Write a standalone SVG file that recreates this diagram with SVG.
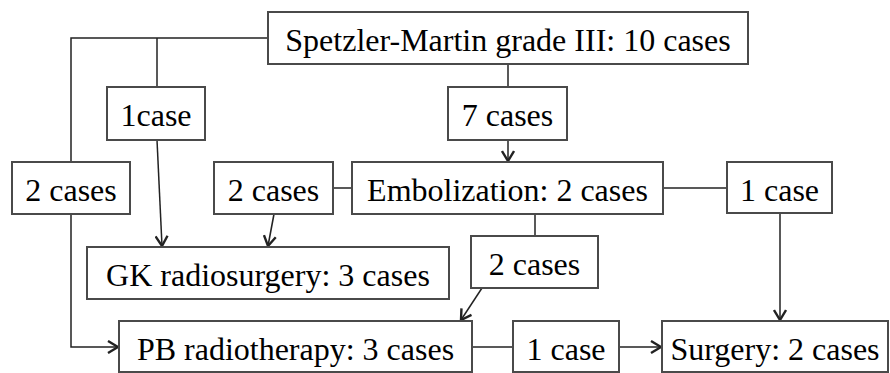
<svg xmlns="http://www.w3.org/2000/svg" width="890" height="373" viewBox="0 0 890 373">
<style>
.box{fill:#fff;stroke:#4a4a4a;stroke-width:2}
.t{font-family:"Liberation Serif","Times New Roman",serif;font-size:32px;fill:#000;text-anchor:middle}
.c{fill:none;stroke:#222;stroke-width:1.5}
</style>
<defs>
<marker id="ah" viewBox="0 0 12 14" refX="11" refY="7" markerWidth="12" markerHeight="14" markerUnits="userSpaceOnUse" orient="auto">
<path d="M1,1 L11,7 L1,13" fill="none" stroke="#222" stroke-width="2.4"/>
</marker>
</defs>
<rect width="890" height="373" fill="#fff"/>
<g id="connectors">
<path class="c" d="M268,38 H71 V162"/>
<path class="c" d="M157,38 V87"/>
<path class="c" d="M508,64 V87"/>
<path class="c" d="M508,140 V161" marker-end="url(#ah)"/>
<path class="c" d="M157,140 L162,246" marker-end="url(#ah)"/>
<path class="c" d="M333,188 H352"/>
<path class="c" d="M274,214 L268,246" marker-end="url(#ah)"/>
<path class="c" d="M663,188 H727"/>
<path class="c" d="M780,213 V320" marker-end="url(#ah)"/>
<path class="c" d="M535,214 V236"/>
<path class="c" d="M482,288 L461,320" marker-end="url(#ah)"/>
<path class="c" d="M71,214 V347 H118" marker-end="url(#ah)"/>
<path class="c" d="M472,347 H513"/>
<path class="c" d="M619,347 H661" marker-end="url(#ah)"/>
</g>
<g id="top"><rect class="box" x="268" y="12" width="480" height="52"/><text class="t" x="508" y="51">Spetzler-Martin grade III: 10 cases</text></g>
<g id="l1case"><rect class="box" x="107" y="87" width="98" height="53"/><text class="t" x="156" y="126">1case</text></g>
<g id="l7cases"><rect class="box" x="448" y="87" width="119" height="53"/><text class="t" x="507.5" y="126">7 cases</text></g>
<g id="l2casesLeft"><rect class="box" x="12" y="162" width="118" height="52"/><text class="t" x="71" y="201">2 cases</text></g>
<g id="l2casesMid"><rect class="box" x="214" y="162" width="119" height="52"/><text class="t" x="273.5" y="201">2 cases</text></g>
<g id="embolization"><rect class="box" x="352" y="162" width="311" height="52"/><text class="t" x="507.5" y="201">Embolization: 2 cases</text></g>
<g id="l1caseRight"><rect class="box" x="727" y="162" width="105" height="51"/><text class="t" x="779.5" y="201">1 case</text></g>
<g id="gk"><rect class="box" x="87" y="247" width="362" height="52"/><text class="t" x="268" y="286">GK radiosurgery: 3 cases</text></g>
<g id="l2casesRight"><rect class="box" x="471" y="236" width="127" height="52"/><text class="t" x="534.5" y="275">2 cases</text></g>
<g id="pb"><rect class="box" x="119" y="321" width="353" height="51"/><text class="t" x="295.5" y="359.5">PB radiotherapy: 3 cases</text></g>
<g id="l1caseBottom"><rect class="box" x="513" y="321" width="106" height="51"/><text class="t" x="566" y="359.5">1 case</text></g>
<g id="surgery"><rect class="box" x="662" y="321" width="226" height="51"/><text class="t" x="775" y="359.5">Surgery: 2 cases</text></g>
</svg>
